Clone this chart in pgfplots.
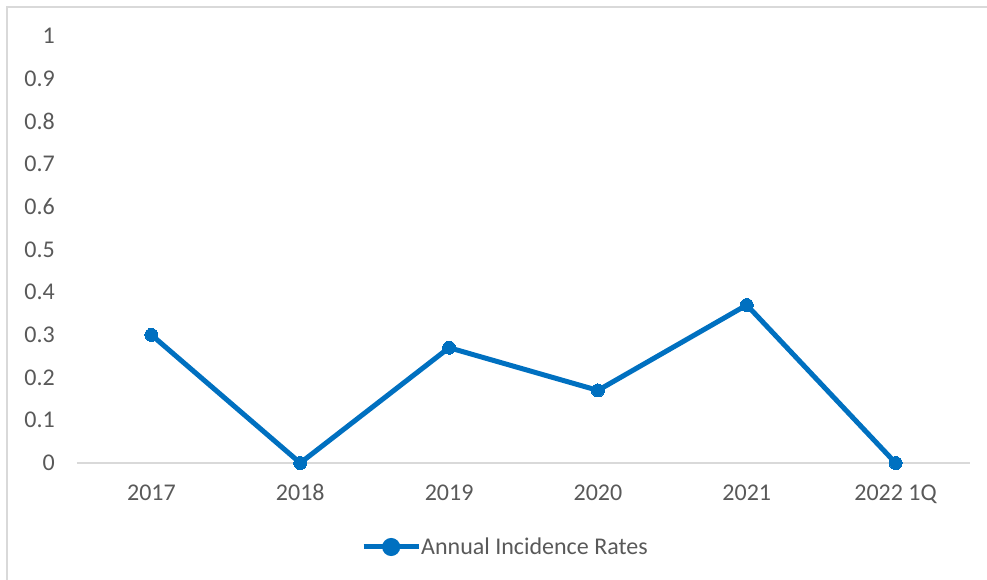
\documentclass[border=0pt]{standalone}
\usepackage{pgfplots}
\pgfplotsset{compat=1.18}
\usepackage{fontspec}
\setmainfont{Carlito}
\definecolor{serblue}{HTML}{0070C0}
\definecolor{txtgray}{HTML}{595959}
\definecolor{axgray}{HTML}{D9D9D9}
\begin{document}
\begin{tikzpicture}
\path[use as bounding box] (0,0) rectangle (987pt,580pt);
\draw[axgray, line width=2pt] (7pt,0) -- (7pt,573pt) -- (987pt,573pt);
\begin{axis}[
  at={(77pt,117pt)}, anchor=south west,
  scale only axis, width=893pt, height=427pt,
  xmin=-0.5, xmax=5.5, ymin=0, ymax=1,
  axis x line=bottom, axis y line=left,
  x axis line style={draw=axgray, line width=1.5pt, -},
  y axis line style={draw=none},
  major tick length=0pt,
  xtick={0,1,2,3,4,5},
  xticklabels={2017,2018,2019,2020,2021,2022 1Q},
  ytick={0,0.1,0.2,0.3,0.4,0.5,0.6,0.7,0.8,0.9,1},
  yticklabels={0,0.1,0.2,0.3,0.4,0.5,0.6,0.7,0.8,0.9,1},
  tick label style={font=\fontsize{24}{28}\selectfont, text=txtgray, inner sep=0pt},
  yticklabel style={anchor=east, xshift=-22pt},
  xticklabel style={anchor=north, yshift=-22pt, text height=15pt, text depth=0pt},
  legend style={at={(axis description cs:0.318,-0.1967)}, anchor=west, draw=none, fill=none,
    inner sep=0pt, font=\fontsize{24}{28}\selectfont, text=txtgray,
    nodes={inner sep=0pt}, column sep=0pt},
  legend image code/.code={
    \draw[serblue, line width=5pt] (0pt,0pt) -- (55pt,0pt);
    \fill[serblue] (27.5pt,0pt) circle (6.5pt);
  },
]
\addplot[serblue, line width=5pt, mark=*, mark size=6.5pt, mark options={fill=serblue, draw=serblue, line width=0pt}]
  coordinates {(0,0.30) (1,0) (2,0.27) (3,0.17) (4,0.37) (5,0)};
\addlegendentry{Annual Incidence Rates}
\end{axis}
\end{tikzpicture}
\end{document}
